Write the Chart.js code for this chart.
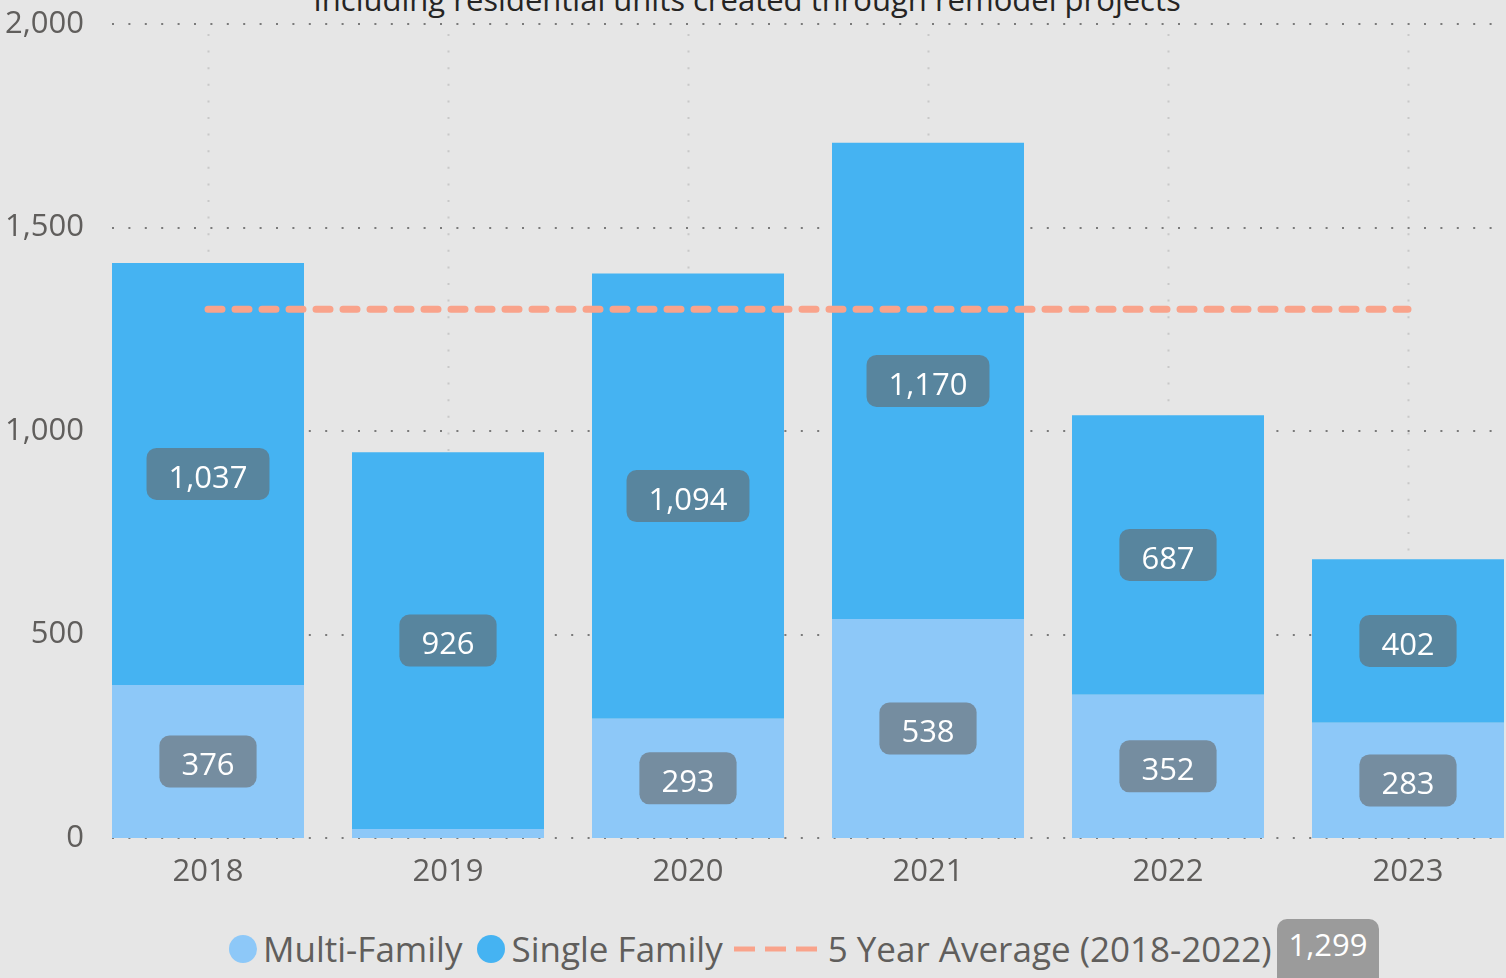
<!DOCTYPE html>
<html>
<head>
<meta charset="utf-8">
<script src="https://cdn.jsdelivr.net/npm/chart.js@4.4.1/dist/chart.umd.min.js"></script>
<style>
  html, body { margin: 0; padding: 0; }
  body { width: 1506px; height: 978px; overflow: hidden; background: #E6E6E6; position: relative; font-family: "Open Sans", "Noto Sans", sans-serif; }
  #wrap { position: absolute; left: 0; top: 0; width: 1528px; height: 900px; }
  #title { position: absolute; left: 0; width: 1494px; top: -21px; text-align: center; font-size: 31px; line-height: 40px; color: #252423; white-space: nowrap; }
  #legend { position: absolute; left: 229px; top: 931px; height: 36px; display: flex; align-items: center; font-size: 35px; line-height: 36px; color: #605E5C; white-space: nowrap; }
  .dot { width: 28px; height: 28px; border-radius: 50%; margin-right: 6px; flex: none; }
  .item { display: flex; align-items: center; margin-right: 15px; }
  #badge { position: absolute; left: 1277px; top: 919px; width: 102px; height: 72px; border-radius: 10px; background: #9B9B9B; color: #fff; font-size: 31px; line-height: 50px; text-align: center; }
</style>
</head>
<body>
<div id="title">Including residential units created through remodel projects</div>
<div id="wrap"><canvas id="c"></canvas></div>
<div id="legend"></div>
<div id="badge"></div>
<script>
// ---- data ----
const years = ['2018', '2019', '2020', '2021', '2022', '2023'];
const multiFamily = [376, 22, 293, 538, 352, 283];
const singleFamily = [1037, 926, 1094, 1170, 687, 402];
const fiveYearAverage = [1299, 1299, 1299, 1299, 1299, 1299];
const averageLabel = '5 Year Average (2018-2022)';
const averageValue = 1299;
const yTicks = [0, 500, 1000, 1500, 2000];

const COL_MULTI = '#8DC8F8';
const COL_SINGLE = '#45B3F2';
const COL_AVG = '#F9A38B';
const FONT = '"Open Sans", "Noto Sans", sans-serif';

// ---- legend (HTML) ----
const legend = document.getElementById('legend');
legend.innerHTML =
  '<div class="item"><div class="dot" style="background:' + COL_MULTI + '"></div>Multi-Family</div>' +
  '<div class="item"><div class="dot" style="background:' + COL_SINGLE + '"></div>Single Family</div>' +
  '<div class="item" style="margin-right:0"><svg width="92" height="10" style="margin-left:-10px;margin-right:8px">' +
  '<line x1="6" y1="5" x2="89" y2="5" stroke="' + COL_AVG + '" stroke-width="5" stroke-dasharray="21 10"/></svg>' + averageLabel + '</div>';
document.getElementById('badge').textContent = averageValue.toLocaleString('en-US');

// ---- plugins ----
const gridPlugin = {
  id: 'dotGrid',
  beforeDatasetsDraw(chart) {
    const ctx = chart.ctx, a = chart.chartArea;
    const xs = chart.scales.x, ys = chart.scales.y;
    ctx.save();
    ctx.strokeStyle = '#C8C8C8';
    ctx.lineWidth = 2;
    ctx.setLineDash([2, 14.6]);
    xs.ticks.forEach((t, i) => {
      const x = Math.round(xs.getPixelForTick(i)) + 0.5;
      ctx.beginPath(); ctx.moveTo(x, a.top + 10); ctx.lineTo(x, a.bottom); ctx.stroke();
    });
    ctx.strokeStyle = '#7A7A7A';
    ctx.setLineDash([2, 14.4]);
    const left = a.left + 24;
    ys.ticks.forEach(t => {
      const y = Math.round(ys.getPixelForValue(t.value));
      ctx.beginPath(); ctx.moveTo(left, y); ctx.lineTo(chart.width, y); ctx.stroke();
    });
    ctx.restore();
  }
};

function roundRect(ctx, x, y, w, h, r) {
  ctx.beginPath();
  ctx.moveTo(x + r, y);
  ctx.arcTo(x + w, y, x + w, y + h, r);
  ctx.arcTo(x + w, y + h, x, y + h, r);
  ctx.arcTo(x, y + h, x, y, r);
  ctx.arcTo(x, y, x + w, y, r);
  ctx.closePath();
}

const labelPlugin = {
  id: 'boxLabels',
  afterDatasetsDraw(chart) {
    const ctx = chart.ctx;
    ctx.save();
    ctx.font = '31px ' + FONT;
    ctx.textAlign = 'center';
    ctx.textBaseline = 'middle';
    chart.data.datasets.forEach((ds, di) => {
      if (ds.type !== 'bar') return;
      const meta = chart.getDatasetMeta(di);
      meta.data.forEach((bar, i) => {
        const v = ds.data[i];
        if (v < 100) return;
        const txt = v.toLocaleString('en-US');
        const cy = (bar.y + bar.base) / 2;
        const tw = ctx.measureText(txt).width;
        const w = tw + 44, h = 52;
        ctx.fillStyle = 'rgba(102,102,102,0.6)';
        roundRect(ctx, bar.x - w / 2, cy - h / 2, w, h, 10);
        ctx.fill();
        ctx.fillStyle = '#FFFFFF';
        ctx.fillText(txt, bar.x, cy + 5);
      });
    });
    ctx.restore();
  }
};

function draw() {
  new Chart(document.getElementById('c'), {
    data: {
      labels: years,
      datasets: [
        { type: 'line', label: averageLabel, data: fiveYearAverage, borderColor: COL_AVG, borderWidth: 7,
          borderDash: [14, 13], borderCapStyle: 'round', pointRadius: 0, fill: false, order: 0 },
        { type: 'bar', label: 'Multi-Family', data: multiFamily, backgroundColor: COL_MULTI,
          categoryPercentage: 0.8, barPercentage: 1, order: 1 },
        { type: 'bar', label: 'Single Family', data: singleFamily, backgroundColor: COL_SINGLE,
          categoryPercentage: 0.8, barPercentage: 1, order: 1 }
      ]
    },
    options: {
      responsive: true,
      maintainAspectRatio: false,
      animation: false,
      layout: { padding: { top: 24, left: 0, right: 0, bottom: 0 } },
      plugins: { legend: { display: false }, tooltip: { enabled: false }, title: { display: false } },
      scales: {
        x: {
          stacked: true,
          offset: true,
          grid: { display: false, drawTicks: false },
          border: { display: false },
          ticks: { color: '#605E5C', font: { family: FONT, size: 31 }, padding: 16, maxRotation: 0 },
          afterFit(s) { s.height = 62; s.paddingLeft = 0; s.paddingRight = 0; }
        },
        y: {
          stacked: true,
          min: 0, max: 2000,
          grid: { display: false, drawTicks: false },
          border: { display: false },
          afterBuildTicks(s) { s.ticks = yTicks.map(v => ({ value: v })); },
          ticks: { color: '#605E5C', font: { family: FONT, size: 31 }, padding: 4,
                   callback: v => v.toLocaleString('en-US') },
          afterFit(s) { s.width = 88; s.paddingTop = 0; s.paddingBottom = 0; }
        }
      }
    },
    plugins: [gridPlugin, labelPlugin]
  });
}

if (document.fonts && document.fonts.load) {
  document.fonts.load('30px "Open Sans"').then(draw, draw);
} else { draw(); }
</script>
</body>
</html>
